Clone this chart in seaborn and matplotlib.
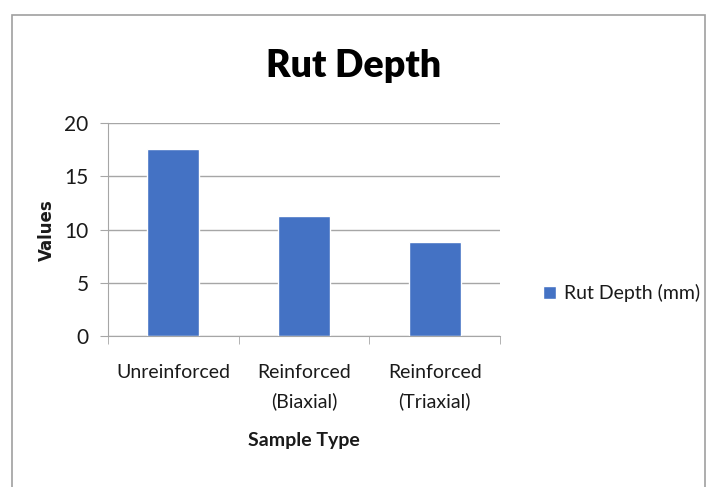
import matplotlib
matplotlib.use("Agg")
import matplotlib.pyplot as plt
import seaborn as sb
import pandas as pd
from matplotlib.patches import Rectangle

# veriler
categories = ["Unreinforced", "Reinforced\n(Biaxial)", "Reinforced\n(Triaxial)"]
rut_depth = [17.6, 11.3, 8.85]
y_ticks = [0, 5, 10, 15, 20]

df = pd.DataFrame({"Sample Type": categories, "Rut Depth (mm)": rut_depth})

sb.set_style("white")
plt.rcParams["font.family"] = ["Lato", "DejaVu Sans"]
plt.rcParams["text.color"] = "#1a1a1a"
plt.rcParams["xtick.color"] = "#1a1a1a"
plt.rcParams["ytick.color"] = "#1a1a1a"
plt.rcParams["axes.labelcolor"] = "#1a1a1a"

fig = plt.figure(figsize=(7.08, 4.87), dpi=100)
ax = fig.add_axes([108 / 708, 1 - 336 / 487, 392 / 708, (336 - 123.3) / 487])

sb.barplot(data=df, x="Sample Type", y="Rut Depth (mm)", color="#4472C4",
           width=0.4, saturation=1, ax=ax, label="Rut Depth (mm)")

ax.set_ylim(0, 20)
ax.set_yticks(y_ticks)
ax.set_xlim(-0.5, 2.5)
ax.yaxis.grid(True, color="#A6A6A6", linewidth=1)
ax.set_axisbelow(True)
for s in ["top", "right"]:
    ax.spines[s].set_visible(False)
for s in ["left", "bottom"]:
    ax.spines[s].set_color("#A6A6A6")
ax.tick_params(axis="y", length=6, color="#A6A6A6", labelsize=15, pad=8, left=True)
ax.tick_params(axis="x", length=0, labelsize=14, pad=20)
for lbl in ax.get_xticklabels():
    lbl.set_linespacing(1.75)
# tick marks at category boundaries
ax.set_xticks([-0.5, 0.5, 1.5, 2.5], minor=True)
ax.tick_params(axis="x", which="minor", length=6, color="#A6A6A6", bottom=True)

ax.set_xlabel("Sample Type", fontsize=14, fontweight="bold", labelpad=16)
ax.set_ylabel("Values", fontsize=12, fontweight="bold", family="DejaVu Sans", labelpad=6)
fig.suptitle("Rut Depth", fontsize=27, fontweight="heavy", y=0.9, color="black")

ax.legend(loc="center left", bbox_to_anchor=(0.742, 0.398), bbox_transform=fig.transFigure,
          frameon=False, fontsize=14, handlelength=0.7, handleheight=0.7, handletextpad=0.4)

fig.patches.append(Rectangle((12 / 708, -0.05), (705 - 12) / 708, 1.05 - 15 / 487,
                             transform=fig.transFigure, fill=False, edgecolor="#A0A0A0",
                             linewidth=1.2))

fig.savefig("out.png", dpi=100)
